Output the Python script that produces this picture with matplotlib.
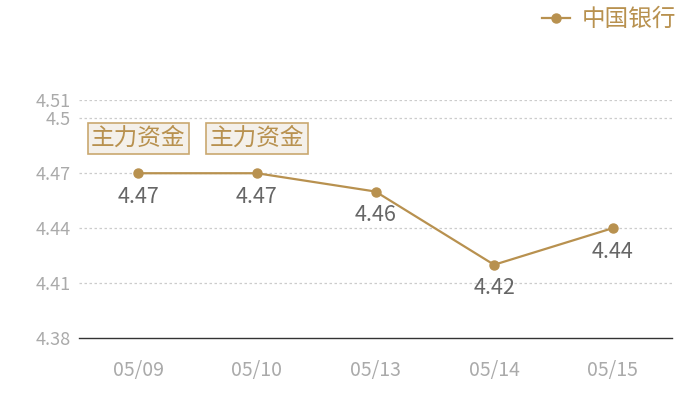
import matplotlib
matplotlib.use('Agg')
import matplotlib.pyplot as plt

plt.rcParams['font.family'] = ['Noto Sans CJK SC', 'DejaVu Sans']

dates = ['05/09', '05/10', '05/13', '05/14', '05/15']
prices = [4.47, 4.47, 4.46, 4.42, 4.44]
series_name = '中国银行'
yticks = [4.38, 4.41, 4.44, 4.47, 4.5, 4.51]
ytick_labels = ['4.38', '4.41', '4.44', '4.47', '4.5', '4.51']
badge_text = '主力资金'
badge_idx = [0, 1]

gold = '#b8914f'
grey = '#aaaaaa'

fig = plt.figure(figsize=(7, 4), dpi=100)
ax = fig.add_axes([79/700, 1 - 338/400, (672 - 79)/700, (338 - 100)/400])

x = list(range(len(dates)))
ax.plot(x, prices, color=gold, lw=1.6, marker='o', ms=6.5, label=series_name, zorder=3)

for i, v in zip(x, prices):
    ax.annotate(f'{v:.2f}', (i, v), xytext=(0, -9), textcoords='offset points',
                ha='center', va='top', fontsize=15.5, color='#666666')

for i in badge_idx:
    ax.annotate(badge_text, (i, prices[i]), xytext=(0, 25), textcoords='offset points',
                ha='center', va='center', fontsize=17, color=gold,
                bbox=dict(boxstyle='square,pad=0.15', fc='#f4f0ea', ec='#c9a870', lw=1.2))

ax.set_xlim(-0.5, len(dates) - 0.5)
ax.set_ylim(4.38, 4.51)
ax.set_xticks(x)
ax.set_xticklabels(dates)
ax.set_yticks(yticks)
ax.set_yticklabels(ytick_labels)
ax.tick_params(axis='both', length=0, colors=grey)
ax.tick_params(axis='x', labelsize=14, pad=16)
ax.tick_params(axis='y', labelsize=13, pad=6)

for t in yticks[1:]:
    ax.axhline(t, color='#cccccc', lw=0.9, ls=(0, (2, 2)), zorder=1)

for s in ['top', 'right', 'left']:
    ax.spines[s].set_visible(False)
ax.spines['bottom'].set_color('#333333')
ax.spines['bottom'].set_linewidth(1)

fig.legend(loc='upper right', bbox_to_anchor=(0.997, 1.033), frameon=False,
           fontsize=17, labelcolor=gold, handlelength=1.2, handletextpad=0.5)

fig.savefig('out.png', dpi=100)
